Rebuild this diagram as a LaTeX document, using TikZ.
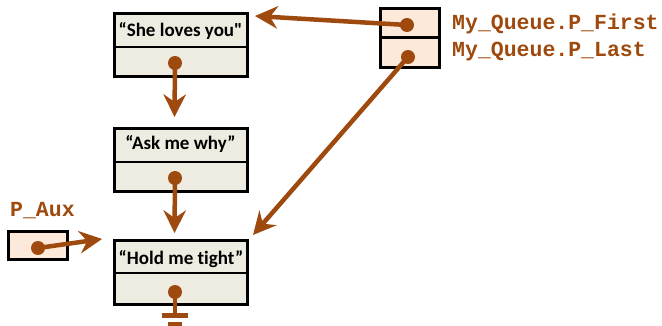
\documentclass[tikz,border=0pt]{standalone}
\usepackage{fontspec}
\newfontfamily\boxfont{Carlito}[Ligatures={NoCommon}]
\newfontfamily\codefont{Liberation Mono}
\usetikzlibrary{arrows.meta}
\definecolor{brn}{RGB}{158,74,14}
\definecolor{beige}{RGB}{238,236,225}
\definecolor{peach}{RGB}{253,233,217}
\begin{document}
\begin{tikzpicture}[x=1pt,y=-1pt,
  cellbox/.style={draw=black, line width=3pt, fill=beige, minimum width=133pt, minimum height=63pt, inner sep=0pt},
  ptrbox/.style={draw=black, line width=3pt, fill=peach, inner sep=0pt},
  divider/.style={draw=black, line width=1.5pt},
  celltext/.style={font=\boxfont\bfseries\fontsize{19}{21}\selectfont, anchor=base, inner sep=0pt},
  codetext/.style={font=\codefont\bfseries\fontsize{21.5}{23}\selectfont, text=brn, anchor=base west, inner sep=0pt},
  dot/.style={circle, fill=brn, minimum size=14pt, inner sep=0pt},
  ptr/.style={draw=brn, line width=4.5pt, -{Stealth[length=23pt,width=23pt,inset=8pt,line width=0pt]}},
  gnd/.style={draw=brn, line width=4.5pt}
]
\useasboundingbox (0,0) rectangle (662,326);
% list cells
\node[cellbox] (b1) at (180.5,45) {};
\node[cellbox] (b2) at (180.5,160) {};
\node[cellbox] (b3) at (181,272.5) {};
\draw[divider] ([yshift=-2pt]b1.west) -- ([yshift=-2pt]b1.east);
\draw[divider] ([yshift=-2pt]b2.west) -- ([yshift=-2pt]b2.east);
\draw[divider] ([yshift=-0.5pt]b3.west) -- ([yshift=-0.5pt]b3.east);
\node[celltext] (t1) at (180.5,37) {“She loves you\symbol{34}};
\node[celltext] (t2) at (180.5,150) {“Ask me why”};
\node[celltext] (t3) at (181,264) {“Hold me tight”};
% queue record
\node[ptrbox, minimum width=59pt, minimum height=59pt] (q) at (410,38) {};
\draw[draw=black, line width=3pt] (q.west) -- (q.east);
\node[codetext] (lf) at (452,30) {My\_Queue.P\_First};
\node[codetext] (ll) at (452,57) {My\_Queue.P\_Last};
% aux pointer
\node[ptrbox, minimum width=59pt, minimum height=28pt] (aux) at (38,245.5) {};
\node[codetext] (la) at (10,217) {P\_Aux};
% dots
\node[dot] (d1) at (175,63) {};
\node[dot] (d2) at (175,178) {};
\node[dot] (d3) at (175,292) {};
\node[dot] (df) at (407,25) {};
\node[dot] (dl) at (408,57) {};
\node[dot] (da) at (38,248) {};
% arrow tips
\coordinate (tip12) at (174.5,117);
\coordinate (tip23) at (174.5,233);
\coordinate (tipf) at (255,16);
\coordinate (tipl) at (253,235);
\coordinate (tipa) at (102,239);
\coordinate (g0) at (175,315.5);
\coordinate (g1l) at (162,315.5);
\coordinate (g1r) at (188,315.5);
\coordinate (g2l) at (168,324);
\coordinate (g2r) at (182,324);
% connectors
\draw[ptr] (d1.center) -- (tip12);
\draw[ptr] (d2.center) -- (tip23);
\draw[ptr] (df.center) -- (tipf);
\draw[ptr] (dl.center) -- (tipl);
\draw[ptr] (da.center) -- (tipa);
\draw[gnd] (d3.center) -- (g0);
\draw[gnd] (g1l) -- (g1r);
\draw[gnd] (g2l) -- (g2r);
\end{tikzpicture}
\end{document}
